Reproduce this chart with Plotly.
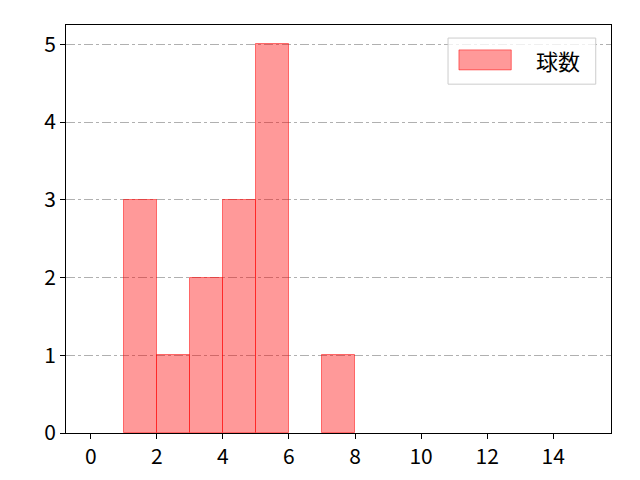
import plotly.graph_objects as go

# histogram bins (left edge) and counts
bin_left = [1, 2, 3, 4, 5, 7]
counts = [3, 1, 2, 3, 5, 1]
bin_width = 1
series_name = "球数"

x_ticks = [0, 2, 4, 6, 8, 10, 12, 14]
y_ticks = [0, 1, 2, 3, 4, 5]

font = "Noto Sans CJK JP"

fig = go.Figure()
fig.add_trace(go.Bar(
    x=bin_left, y=counts, width=bin_width, offset=0,
    marker=dict(color="rgba(255,0,0,0.4)",
                line=dict(color="rgba(255,0,0,0.5)", width=1)),
    name=series_name, showlegend=False,
))

# hand-drawn legend like matplotlib's
fig.add_shape(type="rect", xref="paper", yref="paper", x0=0.701, x1=0.972, y0=0.855, y1=0.968,
              line=dict(color="#cccccc", width=1), fillcolor="rgba(255,255,255,0.8)")
fig.add_shape(type="rect", xref="paper", yref="paper", x0=0.721, x1=0.817, y0=0.890, y1=0.939,
              line=dict(color="rgba(255,0,0,0.5)", width=1), fillcolor="rgba(255,0,0,0.4)")
fig.add_annotation(xref="paper", yref="paper", x=0.903, y=0.914, text=series_name,
                   xanchor="center", yanchor="middle",
                   showarrow=False, font=dict(size=22, color="black", family=font))

# page has ~7px body offset, so margins are shifted to compensate
fig.update_layout(
    width=640, height=480,
    margin=dict(l=58, r=37, t=17, b=55),
    plot_bgcolor="white", paper_bgcolor="white",
    font=dict(family=font, size=21, color="black"),
    bargap=0,
)
fig.update_xaxes(range=[-0.75, 15.75], tickvals=x_ticks, showgrid=False, zeroline=False,
                 showline=True, linecolor="black", linewidth=1, mirror=True,
                 ticks="outside", ticklen=5, tickcolor="black", automargin=False)
fig.update_yaxes(range=[0, 5.25], tickvals=y_ticks, showgrid=True, gridcolor="#b0b0b0",
                 griddash="dashdot", gridwidth=1, zeroline=False,
                 showline=True, linecolor="black", linewidth=1, mirror=True,
                 ticks="outside", ticklen=5, tickcolor="black", automargin=False)

fig.write_html("out.html")
